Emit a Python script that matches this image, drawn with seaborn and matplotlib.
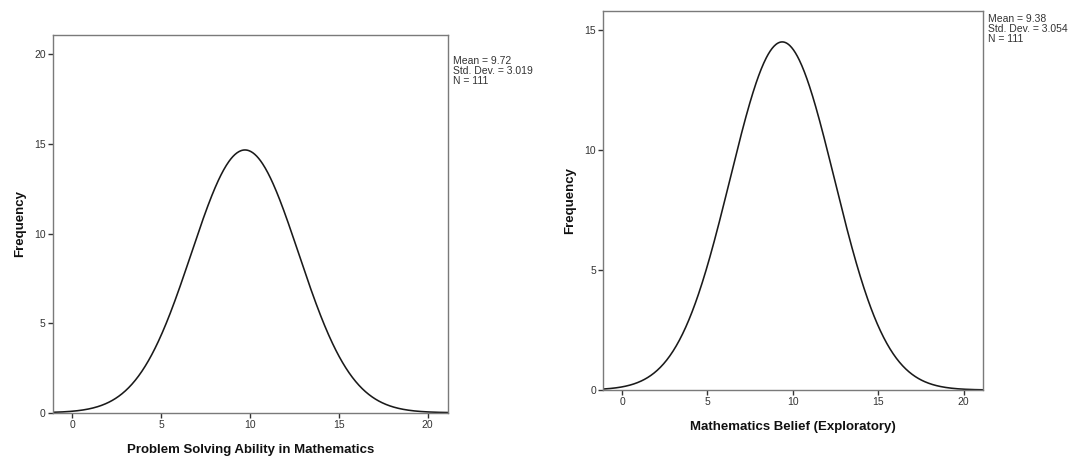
import numpy as np
import pandas as pd
import matplotlib
matplotlib.use("Agg")
import matplotlib.pyplot as plt
import seaborn as sns

# Summary statistics for each variable (normal curves, bin width 1)
variables = ["Problem Solving Ability in Mathematics", "Mathematics Belief (Exploratory)"]
means = [9.72, 9.38]
std_devs = [3.019, 3.054]
counts = [111, 111]
bin_width = 1.0

x_ticks = [0, 5, 10, 15, 20]
y_ticks_left = [0, 5, 10, 15, 20]
y_ticks_right = [0, 5, 10, 15]
y_limits = [21.1, 15.8]
x_limits = (-1.1, 21.15)

sns.set_theme(style="white")
plt.rcParams["font.family"] = ["Liberation Sans", "DejaVu Sans"]

fig = plt.figure(figsize=(10.7, 4.57), dpi=100)
ax_left = fig.add_axes([0.0493, 0.0969, 0.3694, 0.8271])
ax_right = fig.add_axes([0.5638, 0.1466, 0.3551, 0.8300])

frame_color = "#7a7a7a"

for ax, name, mu, sd, n, ylim, yt in zip(
    [ax_left, ax_right], variables, means, std_devs, counts, y_limits,
    [y_ticks_left, y_ticks_right]):
    xs = np.linspace(x_limits[0], x_limits[1], 600)
    ys = n * bin_width * np.exp(-0.5 * ((xs - mu) / sd) ** 2) / (sd * np.sqrt(2 * np.pi))
    df = pd.DataFrame({"x": xs, "y": ys})
    sns.lineplot(data=df, x="x", y="y", ax=ax, color="#1a1a1a", linewidth=1.15)

    ax.set_xlim(*x_limits)
    ax.set_ylim(0, ylim)
    ax.set_xticks(x_ticks)
    ax.set_yticks(yt)
    ax.tick_params(axis="both", which="both", direction="out", length=3.5,
                   width=1.0, color="#333333", labelsize=7.5, labelcolor="#333333",
                   pad=1.5, bottom=True, left=True)
    for sp in ax.spines.values():
        sp.set_color(frame_color)
        sp.set_linewidth(1.0)
    ax.set_xlabel(name, fontsize=9.5, fontweight="bold", color="#111111", labelpad=10)
    ax.set_ylabel("Frequency", fontsize=9.5, fontweight="bold", color="#111111", labelpad=6)

    ax.text(1.012, 0.945 if ax is ax_left else 0.99,
            f"Mean = {mu:.2f}\nStd. Dev. = {sd:.3f}\nN = {n}",
            transform=ax.transAxes, ha="left", va="top", fontsize=7.5,
            color="#333333", linespacing=1.0)

fig.savefig("out.png", dpi=100, facecolor="white")
